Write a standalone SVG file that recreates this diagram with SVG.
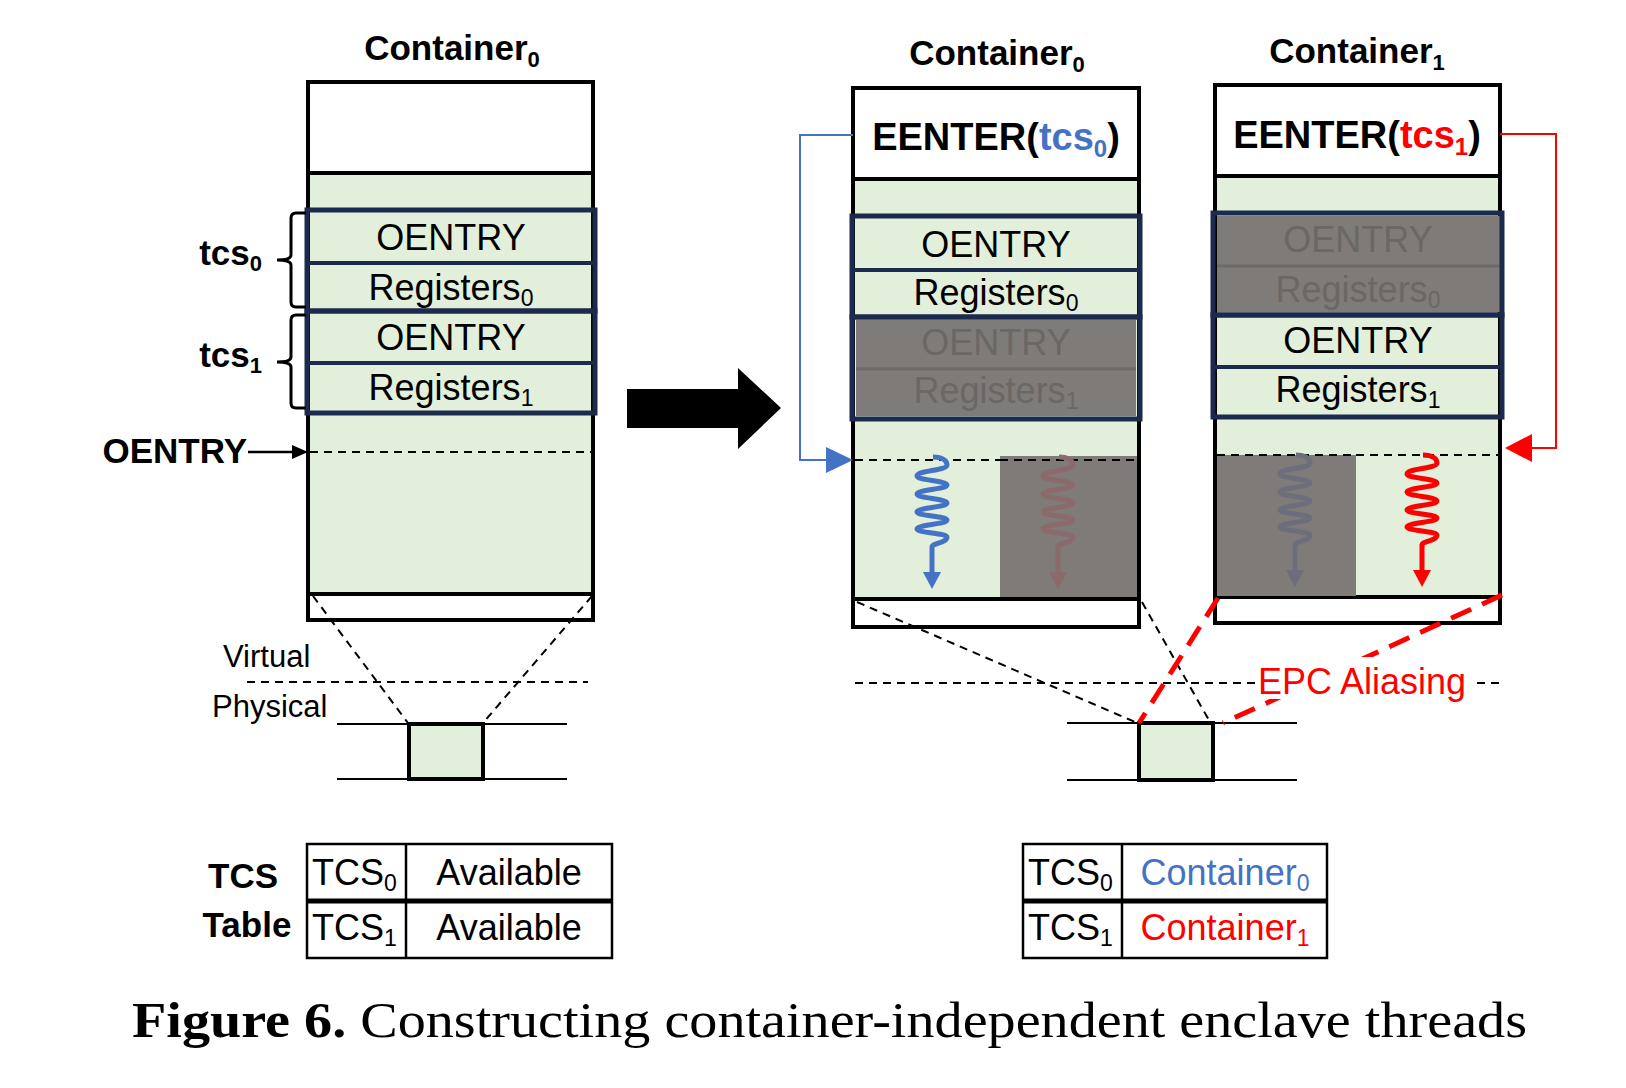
<svg xmlns="http://www.w3.org/2000/svg" xmlns:xlink="http://www.w3.org/1999/xlink" width="1626" height="1088" viewBox="0 0 1626 1088">
<style>
text{font-family:"Liberation Sans",Arial,sans-serif;fill:#000}
.b{font-weight:bold}
.t35{font-size:35px}
.t36{font-size:36px}
.t31{font-size:31px}
.box{stroke:#000;stroke-width:4}
.white{fill:#fff}
.green{fill:#e2efda}
.navy{fill:none;stroke:#1c2a4e;stroke-width:5}
.navy2{stroke:#1c2a4e;stroke-width:4}
.gray{fill:#7f7b78}
.grayt{fill:#6b6765}
.graysep{stroke:#6e6a67;stroke-width:3}
.dash{fill:none;stroke:#000;stroke-width:2;stroke-dasharray:8 6}
.rdash{fill:none;stroke:#ff0000;stroke-width:5;stroke-dasharray:22 12}
.thin{stroke:#000;stroke-width:2}
.tbl{fill:none;stroke:#000;stroke-width:2.5}
.sq{fill:none;stroke-width:5}
.cap{font-family:"Liberation Serif","Times New Roman",serif;font-size:50px}
</style>
<defs>
<g id="squig">
<path class="sq" d="M1,0 C11,0 15,4 15,8 C15,13.5 -15,13.5 -15,19 C-15,23.5 15,23.5 15,28 C15,32.5 -15,32.5 -15,37 C-15,41.5 15,41.5 15,46 C15,50.5 -15,50.5 -15,55 C-15,59 15,59 15,63 C15,67.5 -15,67.5 -15,72 C-15,76 15,76 15,80 C15,86 0,86 0,90 V117"/>
<polygon points="-9,115 9,115 0,132" stroke="none"/>
</g>
</defs>

<!-- Left container -->
<g id="left-container">
<text class="b t35" x="452" y="60" text-anchor="middle">Container<tspan font-size="22" dy="7">0</tspan></text>
<rect class="box white" x="308" y="82" width="285" height="91"/>
<rect class="box green" x="308" y="173" width="285" height="421"/>
<rect class="box white" x="308" y="594" width="285" height="26"/>
<rect class="navy" x="307" y="210" width="288" height="101"/>
<line class="navy2" x1="307" y1="263" x2="595" y2="263"/>
<rect class="navy" x="307" y="311" width="288" height="102"/>
<line class="navy2" x1="307" y1="363" x2="595" y2="363"/>
<text class="t36" x="451" y="250" text-anchor="middle">OENTRY</text>
<text class="t36" x="451" y="300" text-anchor="middle">Registers<tspan font-size="23" dy="6">0</tspan></text>
<text class="t36" x="451" y="350" text-anchor="middle">OENTRY</text>
<text class="t36" x="451" y="400" text-anchor="middle">Registers<tspan font-size="23" dy="6">1</tspan></text>
<line class="dash" x1="310" y1="452" x2="591" y2="452"/>
</g>

<g id="tcs-labels">
<path d="M306,213 H296 Q291,213 291,218 V255 Q291,260 277,260 Q291,260 291,265 V302 Q291,307 296,307 H306" fill="none" stroke="#000" stroke-width="3"/>
<path d="M306,315 H296 Q291,315 291,320 V357 Q291,362 277,362 Q291,362 291,367 V403 Q291,408 296,408 H306" fill="none" stroke="#000" stroke-width="3"/>
<text class="b t35" x="262" y="265" text-anchor="end">tcs<tspan font-size="22" dy="6">0</tspan></text>
<text class="b t35" x="262" y="367" text-anchor="end">tcs<tspan font-size="22" dy="6">1</tspan></text>
<text class="b t35" x="247" y="463" text-anchor="end">OENTRY</text>
</g>

<g id="left-physical">
<text class="t31" x="223" y="667">Virtual</text>
<text class="t31" x="212" y="717">Physical</text>
<line class="thin" x1="337" y1="724" x2="567" y2="724"/>
<line class="thin" x1="337" y1="779" x2="567" y2="779"/>
<rect class="box green" x="409" y="724" width="74" height="55"/>
</g>

<!-- big arrow -->
<g id="big-arrow">
<polygon points="627,389 738,389 738,368 781,408 738,449 738,428 627,428" fill="#000"/>
</g>

<!-- Middle container -->
<g id="mid-container">
<text class="b t35" x="997" y="65" text-anchor="middle">Container<tspan font-size="22" dy="7">0</tspan></text>
<rect class="box white" x="853" y="88" width="286" height="91"/>
<text class="b" font-size="38" x="996" y="150" text-anchor="middle">EENTER(<tspan fill="#4472c4">tcs<tspan font-size="24" dy="7">0</tspan></tspan><tspan dy="-7">)</tspan></text>
<rect class="box green" x="853" y="179" width="286" height="420"/>
<rect class="box white" x="853" y="599" width="286" height="28"/>
<rect class="navy" x="852" y="216" width="288" height="101"/>
<line class="navy2" x1="852" y1="270" x2="1140" y2="270"/>
<rect class="gray" x="856" y="320" width="280" height="96"/>
<line class="graysep" x1="856" y1="369" x2="1136" y2="369"/>
<rect class="navy" x="852" y="317" width="288" height="102"/>
<text class="t36" x="996" y="257" text-anchor="middle">OENTRY</text>
<text class="t36" x="996" y="305" text-anchor="middle">Registers<tspan font-size="23" dy="6">0</tspan></text>
<text class="t36 grayt" x="996" y="355" text-anchor="middle">OENTRY</text>
<text class="t36 grayt" x="996" y="403" text-anchor="middle">Registers<tspan font-size="23" dy="6">1</tspan></text>
<rect class="gray" x="1000" y="456" width="137" height="141"/>
<line class="dash" x1="855" y1="460" x2="1000" y2="460"/>
<line class="dash" x1="1000" y1="460" x2="1137" y2="460" stroke="#6a6663"/>
<use xlink:href="#squig" transform="translate(932,457)" stroke="#4472c4" fill="#4472c4"/>
<use xlink:href="#squig" transform="translate(1058,457)" stroke="#8a6a6a" fill="#8a6a6a"/>
</g>

<!-- Right container -->
<g id="right-container">
<text class="b t35" x="1357" y="63" text-anchor="middle">Container<tspan font-size="22" dy="7">1</tspan></text>
<rect class="box white" x="1215" y="85" width="285" height="91"/>
<text class="b" font-size="38" x="1357" y="148" text-anchor="middle">EENTER(<tspan fill="#ff0000">tcs<tspan font-size="24" dy="7">1</tspan></tspan><tspan dy="-7">)</tspan></text>
<rect class="box green" x="1215" y="176" width="285" height="421"/>
<rect class="box white" x="1215" y="597" width="285" height="26"/>
<rect class="gray" x="1217" y="216" width="283" height="96"/>
<line class="graysep" x1="1217" y1="266" x2="1500" y2="266"/>
<rect class="navy" x="1213" y="213" width="289" height="102"/>
<rect class="navy" x="1213" y="315" width="289" height="102"/>
<line class="navy2" x1="1213" y1="367" x2="1502" y2="367"/>
<text class="t36 grayt" x="1358" y="252" text-anchor="middle">OENTRY</text>
<text class="t36 grayt" x="1358" y="302" text-anchor="middle">Registers<tspan font-size="23" dy="6">0</tspan></text>
<text class="t36" x="1358" y="353" text-anchor="middle">OENTRY</text>
<text class="t36" x="1358" y="402" text-anchor="middle">Registers<tspan font-size="23" dy="6">1</tspan></text>
<rect class="gray" x="1217" y="455" width="139" height="141"/>
<line class="dash" x1="1217" y1="455" x2="1356" y2="455" stroke="#6a6663"/>
<line class="dash" x1="1356" y1="455" x2="1498" y2="455"/>
<use xlink:href="#squig" transform="translate(1295,455)" stroke="#6c6e7c" fill="#6c6e7c"/>
<use xlink:href="#squig" transform="translate(1422,455)" stroke="#ff0000" fill="#ff0000"/>
</g>

<g id="right-physical">
<line class="thin" x1="1067" y1="723" x2="1297" y2="723"/>
<line class="thin" x1="1067" y1="780" x2="1297" y2="780"/>
<rect class="box green" x="1139" y="723" width="74" height="57"/>
</g>

<g id="connectors">
<line class="dash" x1="313" y1="596" x2="408" y2="723"/>
<line class="dash" x1="592" y1="596" x2="483" y2="723"/>
<line class="dash" x1="247" y1="682" x2="588" y2="682"/>
<line class="dash" x1="855" y1="683" x2="1256" y2="683"/>
<line class="dash" x1="1477" y1="683" x2="1503" y2="683"/>
<line class="dash" x1="857" y1="602" x2="1135" y2="722"/>
<line class="dash" x1="1142" y1="602" x2="1210" y2="722"/>
<line class="rdash" x1="1218" y1="598" x2="1139" y2="723"/>
<line class="rdash" x1="1502" y1="595" x2="1223" y2="723"/>
<path d="M853,135 H800 V460 H828" fill="none" stroke="#4472c4" stroke-width="2"/>
<polygon points="826,447 853,460 826,473" fill="#4472c4"/>
<path d="M1500,134 H1556 V448 H1530" fill="none" stroke="#ff0000" stroke-width="2"/>
<polygon points="1532,434 1505,448 1532,462" fill="#ff0000"/>
<line x1="248" y1="452" x2="294" y2="452" stroke="#000" stroke-width="2.5"/>
<polygon points="292,445 308,452 292,459" fill="#000"/>
</g>

<g id="epc-label">
<rect x="1256" y="657" width="216" height="42" fill="#fff"/>
<text font-size="36" x="1258" y="694" style="fill:#ff0000">EPC Aliasing</text>
</g>

<!-- Tables -->
<g id="left-table">
<text class="b t35" x="243" y="888" text-anchor="middle">TCS</text>
<text class="b t35" x="247" y="937" text-anchor="middle">Table</text>
<rect class="tbl" x="307" y="844" width="305" height="114"/>
<line x1="307" y1="901" x2="612" y2="901" stroke="#000" stroke-width="5"/>
<line class="tbl" x1="406" y1="844" x2="406" y2="958"/>
<text class="t36" x="312" y="885">TCS<tspan font-size="23" dy="6">0</tspan></text>
<text class="t36" x="312" y="940">TCS<tspan font-size="23" dy="6">1</tspan></text>
<text class="t36" x="509" y="885" text-anchor="middle">Available</text>
<text class="t36" x="509" y="940" text-anchor="middle">Available</text>
</g>

<g id="right-table">
<rect class="tbl" x="1023" y="844" width="304" height="114"/>
<line x1="1023" y1="901" x2="1327" y2="901" stroke="#000" stroke-width="5"/>
<line class="tbl" x1="1122" y1="844" x2="1122" y2="958"/>
<text class="t36" x="1028" y="885">TCS<tspan font-size="23" dy="6">0</tspan></text>
<text class="t36" x="1028" y="940">TCS<tspan font-size="23" dy="6">1</tspan></text>
<text class="t36" x="1225" y="885" text-anchor="middle" style="fill:#4472c4">Container<tspan font-size="23" dy="6">0</tspan></text>
<text class="t36" x="1225" y="940" text-anchor="middle" style="fill:#ff0000">Container<tspan font-size="23" dy="6">1</tspan></text>
</g>

<g id="caption">
<text class="cap" x="132" y="1037" textLength="1395" lengthAdjust="spacingAndGlyphs" style="font-family:'Liberation Serif','Times New Roman',serif"><tspan font-weight="bold">Figure 6.</tspan> Constructing container-independent enclave threads</text>
</g>
</svg>
